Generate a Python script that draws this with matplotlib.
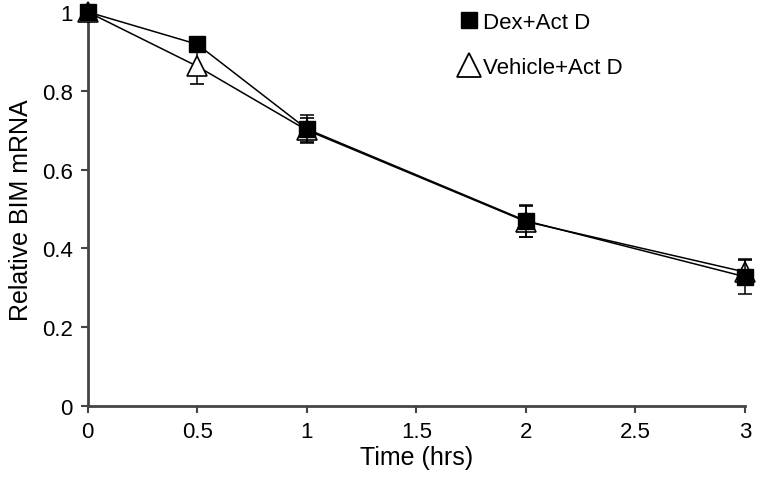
import matplotlib
matplotlib.use('Agg')
import matplotlib.pyplot as plt
from matplotlib.lines import Line2D

plt.rcParams['font.family'] = ['Liberation Sans', 'DejaVu Sans']

# data
time = [0, 0.5, 1, 2, 3]
dex = [1.0, 0.918, 0.703, 0.47, 0.328]
dex_err = [0.0, 0.01, 0.035, 0.04, 0.045]
veh = [1.0, 0.862, 0.70, 0.468, 0.34]
veh_err = [0.0, 0.045, 0.03, 0.04, 0.03]

fig = plt.figure(figsize=(7.57, 4.81), dpi=100)
ax = fig.add_axes([0.116, 0.154, 0.868, 0.819])

ax.errorbar(time, veh, yerr=veh_err, color='k', marker='^', markersize=15,
            markerfacecolor='white', markeredgecolor='k', markeredgewidth=1.2,
            linewidth=1.1, capsize=5, elinewidth=1.1, capthick=1.1,
            clip_on=False, zorder=3)
ax.errorbar(time, dex, yerr=dex_err, color='k', marker='s', markersize=11,
            markerfacecolor='k', linewidth=1.1, capsize=5, elinewidth=1.1,
            capthick=1.1, clip_on=False, zorder=4)

ax.set_xlim(0, 3)
ax.set_ylim(0, 1)
ax.set_xticks([0, 0.5, 1, 1.5, 2, 2.5, 3])
ax.set_xticklabels(['0', '0.5', '1', '1.5', '2', '2.5', '3'])
ax.set_yticks([0, 0.2, 0.4, 0.6, 0.8, 1])
ax.set_yticklabels(['0', '0.2', '0.4', '0.6', '0.8', '1'])
ax.tick_params(labelsize=16, length=5, width=1.5, color='#444444', pad=6)
for s in ['top', 'right']:
    ax.spines[s].set_visible(False)
for s in ['left', 'bottom']:
    ax.spines[s].set_linewidth(2)
    ax.spines[s].set_color('#444444')

ax.set_xlabel('Time (hrs)', fontsize=18, labelpad=2)
ax.set_ylabel('Relative BIM mRNA', fontsize=18, labelpad=6)

# legend shows markers only
handles = [Line2D([], [], linestyle='none', marker='s', markersize=12,
                  color='k'),
           Line2D([], [], linestyle='none', marker='^', markersize=17,
                  markerfacecolor='white', markeredgecolor='k',
                  markeredgewidth=1.3)]
labels = ['Dex+Act D', 'Vehicle+Act D']
fig.legend(handles, labels, loc='upper left', bbox_to_anchor=(0.59, 0.996),
           frameon=False, fontsize=16, handlelength=1.0, handletextpad=0.15,
           labelspacing=1.08, borderpad=0)

plt.savefig('out.png', dpi=100)
